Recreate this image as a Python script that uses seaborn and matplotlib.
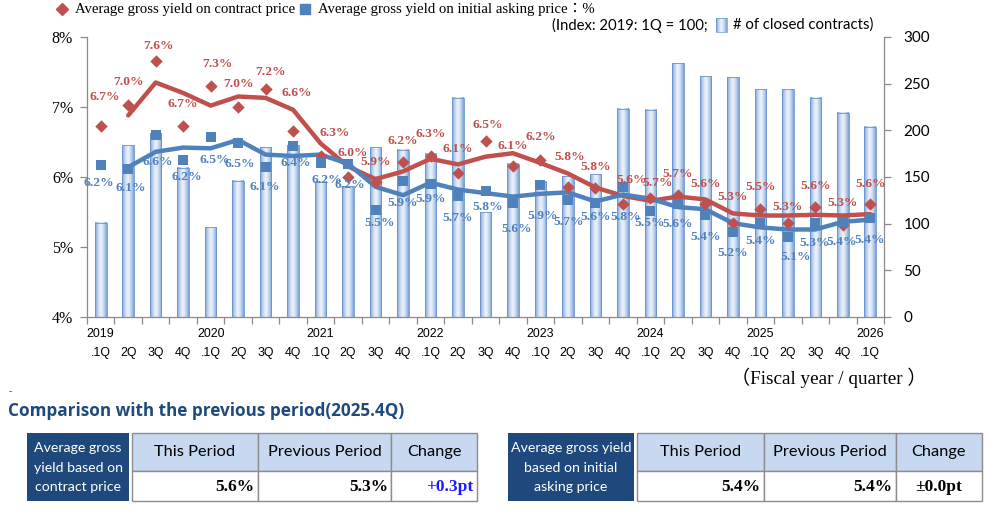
import numpy as np
import pandas as pd
import matplotlib
matplotlib.use("Agg")
import matplotlib.pyplot as plt
import seaborn as sns
from matplotlib.patches import Rectangle
from matplotlib.colors import to_rgb

# ---------------- data ----------------
years = ["2019", "2020", "2021", "2022", "2023", "2024", "2025", "2026"]
quarters = [".1Q", "2Q", "3Q", "4Q"] * 7 + [".1Q"]

contract_yield = [6.73, 7.03, 7.66, 6.73, 7.30, 7.00, 7.26, 6.66, 6.30, 6.00,
                  5.93, 6.22, 6.30, 6.06, 6.52, 6.16, 6.24, 5.86, 5.84, 5.62,
                  5.70, 5.74, 5.61, 5.35, 5.55, 5.34, 5.57, 5.32, 5.62]
asking_yield = [6.17, 6.11, 6.60, 6.24, 6.57, 6.48, 6.15, 6.44, 6.20, 6.18,
                5.53, 5.94, 5.90, 5.73, 5.80, 5.63, 5.89, 5.67, 5.63, 5.86,
                5.51, 5.62, 5.46, 5.21, 5.35, 5.15, 5.35, 5.36, 5.41]
# trend lines (2-period moving average), start at 2019 2Q
contract_trend = [6.88, 7.35, 7.20, 7.02, 7.15, 7.13, 6.96, 6.48, 6.15, 5.97,
                  6.08, 6.26, 6.18, 6.29, 6.34, 6.20, 6.05, 5.85, 5.73, 5.66,
                  5.72, 5.68, 5.48, 5.45, 5.45, 5.46, 5.45, 5.47]
asking_trend = [6.14, 6.36, 6.42, 6.41, 6.53, 6.32, 6.30, 6.32, 6.19, 5.86,
                5.74, 5.92, 5.82, 5.77, 5.72, 5.76, 5.78, 5.65, 5.75, 5.69,
                5.57, 5.54, 5.34, 5.28, 5.25, 5.25, 5.36, 5.39]
closed_contracts = [101, 184, 197, 160, 96, 146, 182, 184, 145, 140,
                    182, 179, 175, 235, 112, 164, 145, 151, 153, 223,
                    222, 272, 258, 257, 244, 244, 235, 219, 204]
contract_labels = ["6.7%", "7.0%", "7.6%", "6.7%", "7.3%", "7.0%", "7.2%", "6.6%", "6.3%", "6.0%",
                   "5.9%", "6.2%", "6.3%", "6.1%", "6.5%", "6.1%", "6.2%", "5.8%", "5.8%", "5.6%",
                   "5.7%", "5.7%", "5.6%", "5.3%", "5.5%", "5.3%", "5.6%", "5.3%", "5.6%"]
asking_labels = ["6.2%", "6.1%", "6.6%", "6.2%", "6.5%", "6.5%", "6.1%", "6.4%", "6.2%", "6.2%",
                 "5.5%", "5.9%", "5.9%", "5.7%", "5.8%", "5.6%", "5.9%", "5.7%", "5.6%", "5.8%",
                 "5.5%", "5.6%", "5.4%", "5.2%", "5.4%", "5.1%", "5.3%", "5.4%", "5.4%"]
left_ticks = [4, 5, 6, 7, 8]
right_ticks = [0, 50, 100, 150, 200, 250, 300]

table_cols = ["This Period", "Previous Period", "Change"]
contract_row = ["5.6%", "5.3%", "+0.3pt"]
asking_row = ["5.4%", "5.4%", "\u00b10.0pt"]

# ---------------- layout (pixels) ----------------
# label offsets in pixels (dx right, dy down)
red_off = [(4, -29), (0, -23), (3, -15), (0, -22), (7, -22), (0, -23), (5, -17), (4, -38), (14, -23), (5, -24),
           (0, -20), (0, -21), (0, -22), (0, -24), (2, -16), (0, -20), (0, -23), (2, -30), (0, -21), (9, -24),
           (7, -15), (0, -21), (0, -20), (0, -26), (0, -21), (0, -16), (0, -21), (0, -22), (0, -20)]
blue_off = [(-2, 18), (3, 19), (2, 27), (4, 17), (4, 23), (2, 21), (-1, 20), (3, 17), (6, 17), (2, 21),
            (4, 13), (0, 22), (0, 15), (0, 22), (2, 16), (4, 26), (2, 31), (1, 22), (0, 14), (3, 30),
            (-1, 12), (0, 20), (0, 22), (0, 21), (0, 19), (8, 21), (-1, 21), (-1, 20), (-1, 22)]

RED = "#c0504d"
BLUE = "#4f81bd"
GRAY = "#8a8a8a"
DARK = "#1f497d"
SERIF = ["Liberation Serif", "Noto Sans CJK JP"]
SANS = ["Liberation Sans"]
CAL = ["Lato"]

sns.set_theme(style="white")
plt.rcParams["font.family"] = ["Liberation Sans", "DejaVu Sans"]

W, H = 990, 512
fig = plt.figure(figsize=(W / 100, H / 100), dpi=100)

L, R, T, B = 87, 884, 37, 317
ax_l = fig.add_axes([L / W, 1 - B / H, (R - L) / W, (B - T) / H])
ax_r = ax_l.twinx()

n = len(contract_yield)
xpos = np.arange(n)
df = pd.DataFrame({"x": xpos, "contracts": closed_contracts,
                   "contract": contract_yield, "asking": asking_yield})
dft = pd.DataFrame({"x": xpos[1:], "ct": contract_trend, "at": asking_trend})

# bars on right axis
sns.barplot(data=df, x="x", y="contracts", native_scale=True, width=0.42,
            color="#9db9e2", edgecolor="#6a93cc", linewidth=0.6, ax=ax_r)
edge_c = np.array(to_rgb("#779fd6"))
cent_c = np.array(to_rgb("#eaf1fb"))
u = np.linspace(-1, 1, 64)
t = np.abs(u) ** 1.5
grad = (cent_c[None, :] * (1 - t[:, None]) + edge_c[None, :] * t[:, None])[None, :, :]
for p in list(ax_r.patches):
    x0, w, h = p.get_x(), p.get_width(), p.get_height()
    ax_r.imshow(grad, extent=[x0, x0 + w, 0, h], aspect="auto", zorder=1,
                interpolation="bilinear")
    p.set_facecolor("none")
    p.set_zorder(2)
ax_r.set_ylim(0, 300)
ax_r.set_xlim(-0.5, n - 0.5)

# lines and markers on left axis
sns.lineplot(data=dft, x="x", y="ct", color=RED, linewidth=3.2, ax=ax_l, zorder=3)
sns.lineplot(data=dft, x="x", y="at", color=BLUE, linewidth=3.2, ax=ax_l, zorder=3)
sns.scatterplot(data=df, x="x", y="contract", marker="D", s=40, color=RED,
                linewidth=0, ax=ax_l, zorder=4)
sns.scatterplot(data=df, x="x", y="asking", marker="s", s=52, color=BLUE,
                linewidth=0, ax=ax_l, zorder=4)

for i in range(n):
    dx, dy = red_off[i]
    ax_l.annotate(contract_labels[i], (xpos[i], contract_yield[i]), xytext=(dx, -dy),
                  textcoords="offset pixels", ha="center", va="center", color=RED,
                  fontsize=9.7, fontweight="bold", family=SERIF, zorder=6)
    dx, dy = blue_off[i]
    ax_l.annotate(asking_labels[i], (xpos[i], asking_yield[i]), xytext=(dx, -dy),
                  textcoords="offset pixels", ha="center", va="center", color=BLUE,
                  fontsize=9.7, fontweight="bold", family=SERIF, zorder=6)

ax_l.set_zorder(ax_r.get_zorder() + 1)
ax_l.patch.set_visible(False)
ax_l.set_ylim(4, 8)
ax_l.set_xlim(-0.5, n - 0.5)
ax_l.set_xlabel("")
ax_l.set_ylabel("")
ax_r.set_xlabel("")
ax_r.set_ylabel("")

# axes styling
for a in (ax_l, ax_r):
    for s in a.spines.values():
        s.set_visible(False)
        s.set_color(GRAY)
        s.set_linewidth(0.9)
ax_l.spines["left"].set_visible(True)
ax_l.spines["bottom"].set_visible(True)
ax_r.spines["right"].set_visible(True)

ax_l.set_yticks(left_ticks)
ax_l.set_yticklabels([f"{v}%" for v in left_ticks], family=SERIF, fontsize=11.5)
ax_l.tick_params(axis="y", which="major", direction="out", length=5, color=GRAY,
                 width=0.9, left=True, pad=5, labelcolor="black")
ax_r.set_yticks(right_ticks)
ax_r.set_yticklabels([str(v) for v in right_ticks], family=CAL, fontsize=11)
ax_r.tick_params(axis="y", direction="out", length=5, color=GRAY, width=0.9,
                 right=True, pad=9, labelcolor="black")

xt_labels = []
for i, q in enumerate(quarters):
    if q == ".1Q":
        xt_labels.append(f"{years[i // 4]}\n{q}")
    else:
        xt_labels.append(f"\n{q}")
ax_l.set_xticks(xpos)
ax_l.set_xticklabels(xt_labels, family=SANS, fontsize=8.9, linespacing=1.75)
ax_l.set_xticks(np.arange(-0.5, n, 1.0), minor=True)
ax_l.tick_params(axis="x", which="major", length=0, pad=8, labelcolor="black")
ax_l.tick_params(axis="x", which="minor", direction="out", length=5, color=GRAY,
                 width=0.9, bottom=True)
ax_r.tick_params(axis="x", which="both", bottom=False, labelbottom=False)
ax_l.grid(False)
ax_r.grid(False)

# ---------------- overlay (legend, notes, tables) ----------------
ov = fig.add_axes([0, 0, 1, 1])
ov.set_xlim(0, W)
ov.set_ylim(H, 0)
ov.axis("off")

ov.plot([62], [9], marker="D", color=RED, ms=6, lw=0)
ov.text(75, 9, "Average gross yield on contract price", ha="left", va="center",
        family=SERIF, fontsize=10.6, color="black")
ov.plot([305], [9], marker="s", color=BLUE, ms=6.5, lw=0)
ov.text(318, 9, "Average gross yield on initial asking price\uff1a%", ha="left", va="center",
        family=SERIF, fontsize=10.6, color="black")
ov.text(552, 25, "(Index: 2019: 1Q = 100;", ha="left", va="center",
        family=CAL, fontsize=10.7, color="black")
ov.imshow(grad, extent=[716, 727, 32, 18], aspect="auto", zorder=2, interpolation="bilinear")
ov.add_patch(Rectangle((716, 18), 11, 14, fill=False, ec="#6a93cc", lw=0.5, zorder=3))
ov.text(733, 25, "# of closed contracts)", ha="left", va="center",
        family=CAL, fontsize=10.7, color="black")
ov.set_xlim(0, W)
ov.set_ylim(H, 0)

ov.text(829, 378, "\uff08Fiscal year / quarter \uff09", ha="center", va="center",
        family=SERIF, fontsize=13.8, color="black")
ov.text(10, 391, "-", ha="center", va="center", fontsize=7, color="#333333")
ov.text(8, 411, "Comparison with the previous period(2025.4Q)", ha="left", va="center",
        family=["Open Sans"], fontweight="bold", fontsize=12.3, color=DARK)


def draw_table(box, box_lines, cols, row, value_pos):
    bx0, bx1 = box
    y0, ym, y1 = 433, 471, 501
    ov.add_patch(Rectangle((bx0, y0), bx1 - bx0, y1 - y0, fc=DARK, ec="none", zorder=1))
    cy = [448, 468, 487]
    for k, line in enumerate(box_lines):
        ov.text((bx0 + bx1) / 2, cy[k], line, ha="center", va="center", color="white",
                family=CAL, fontsize=10.2, zorder=3)
    for j in range(3):
        c0, c1 = cols[j], cols[j + 1]
        ov.add_patch(Rectangle((c0, y0), c1 - c0, ym - y0, fc="#c6d9f1", ec="#8c8c8c",
                               lw=1.0, zorder=1))
        ov.add_patch(Rectangle((c0, ym), c1 - c0, y1 - ym, fc="white", ec="#8c8c8c",
                               lw=1.0, zorder=1))
        ov.text((c0 + c1) / 2, 452, table_cols[j], ha="center", va="center", color="black",
                family=CAL, fontsize=11.8, zorder=3)
    for j, (txt, (xx, ha, col)) in enumerate(zip(row, value_pos)):
        ov.text(xx, 487, txt, ha=ha, va="center", color=col, family=SERIF,
                fontweight="bold", fontsize=12.5, zorder=3)


draw_table((27, 129), ["Average gross", "yield based on", "contract price"],
           [132, 258, 391, 477], contract_row,
           [(254, "right", "black"), (388, "right", "black"), (473, "right", "#1a1aff")])
draw_table((508, 634), ["Average gross yield", "based on initial", "asking price"],
           [637, 764, 896, 982], asking_row,
           [(760, "right", "black"), (892, "right", "black"), (939, "center", "black")])

fig.savefig("out.png", dpi=100)
